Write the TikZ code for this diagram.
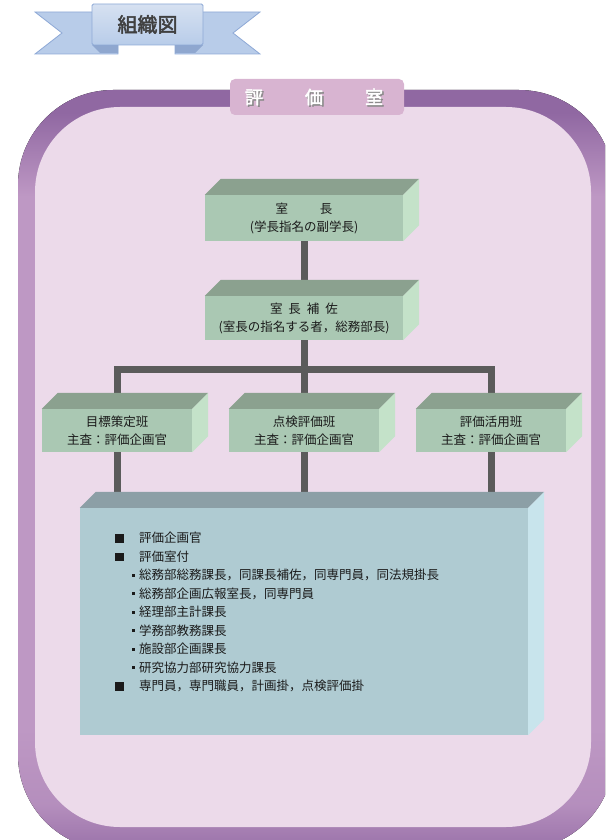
\documentclass[tikz,border=0pt]{standalone}
\usepackage{fontspec}
\setmainfont{Noto Sans CJK JP}
\newfontfamily\jpbold{Noto Sans CJK JP}[FakeBold=2.5]
\usepackage{tikz}
\usetikzlibrary{positioning,calc}
\definecolor{ink}{HTML}{1A1A1A}
\definecolor{framedark}{HTML}{9068A2}
\definecolor{framelight}{HTML}{BE98C4}
\definecolor{pinkbg}{HTML}{ECDAEA}
\definecolor{tabpink}{HTML}{D8B4D1}
\definecolor{linegray}{HTML}{5B5B5B}
\definecolor{boxfront}{HTML}{AAC8B3}
\definecolor{boxtop}{HTML}{8BA18F}
\definecolor{boxside}{HTML}{C4E2C9}
\definecolor{staffront}{HTML}{AFCBD2}
\definecolor{stafftop}{HTML}{8C9FA6}
\definecolor{staffside}{HTML}{C8E4EC}
\definecolor{ribbon}{HTML}{B8CCE9}
\definecolor{ribbonbd}{HTML}{8EA9D6}
\definecolor{ribbonfold}{HTML}{8FA7CF}
\definecolor{ribbontop}{HTML}{D6E1F1}
\pgfdeclareverticalshading{framefade}{100bp}{color(0bp)=(framedark);
  color(25bp)=(framedark!80!framelight); color(28bp)=(framelight!80!framedark);
  color(33bp)=(framelight); color(68bp)=(framelight);
  color(73.5bp)=(framedark); color(100bp)=(framedark)}
\pgfdeclarelayer{bg}
\pgfdeclarelayer{lines}
\pgfsetlayers{bg,lines,main}
\tikzset{
  orgbox/.style={rectangle,fill=boxfront,text=ink,align=center,
    font=\fontsize{12.5}{18}\selectfont,inner sep=0pt,
    minimum width=198pt,minimum height=44pt},
  teambox/.style={orgbox,minimum width=150pt,minimum height=43pt},
  staffbox/.style={rectangle,fill=staffront,inner sep=0pt,
    minimum width=448pt,minimum height=227pt},
  stafflist/.style={align=left,text=ink,inner sep=0pt,
    font=\fontsize{12.5}{18.5}\selectfont},
  orgline/.style={line width=7pt,color=linegray},
  tabtext/.style={font=\jpbold\fontsize{18}{18}\selectfont,inner sep=0pt},
}
% top and right faces of a block
\newcommand{\boxfaces}[3]{%
  \fill[#2] (#1.north west) -- ++(16,-16) -- ($(#1.north east)+(16,-16)$)
    -- (#1.north east) -- cycle;
  \fill[#3] (#1.north east) -- ++(16,-16) -- ($(#1.south east)+(16,-16)$)
    -- (#1.south east) -- cycle;}
\newcommand{\listmain}[1]{\rule[0pt]{8.5pt}{8.5pt}\hspace{15.5pt}#1}
\newcommand{\listsub}[1]{\hspace{17pt}\rule[3pt]{3pt}{3pt}\hspace{4pt}#1}

\begin{document}
\begin{tikzpicture}[x=1pt,y=-1pt]
  \useasboundingbox (0,0) rectangle (605,840);

  % frame
  \begin{pgfonlayer}{bg}
    \clip (0,0) rectangle (605,840);
    \fill[shading=framefade,rounded corners=95pt] (18,90) rectangle (614,850);
    \fill[pinkbg,rounded corners=85pt] (35,107) rectangle (591,827);
  \end{pgfonlayer}

  % ribbon
  \fill[ribbon,draw=ribbonbd,line width=0.8pt]
    (35,12) -- (118,12) -- (118,54) -- (35,54) -- (62,33) -- cycle;
  \fill[ribbon,draw=ribbonbd,line width=0.8pt]
    (260,12) -- (175,12) -- (175,54) -- (260,54) -- (233,33) -- cycle;
  \fill[ribbonfold] (92,45) -- (118,45) -- (118,53) -- (100,53) -- cycle;
  \fill[ribbonfold] (203,45) -- (175,45) -- (175,53) -- (195,53) -- cycle;
  \node[rectangle,top color=ribbontop,bottom color=ribbon,draw=ribbonbd,
    line width=0.8pt,minimum width=111pt,minimum height=41pt,rounded corners=1.5pt,
    inner sep=0pt] (ribbonbox) at (147.5,24.5) {};
  \node[font=\jpbold\fontsize{20}{20}\selectfont,text=black!75,inner sep=0pt]
    (chart) at (ribbonbox.center) {組織図};

  % title tab
  \node[rectangle,fill=tabpink,rounded corners=5pt,minimum width=174pt,
    minimum height=36pt,inner sep=0pt] (tab) at (317,97) {};
  \node[tabtext,text=black!45] (tabshadow) at (315.5,98.5)
    {評\hspace{42pt}価\hspace{42pt}室};
  \node[tabtext,text=white] (title) at (314,97)
    {評\hspace{42pt}価\hspace{42pt}室};

  % blocks
  \node[orgbox,minimum height=46pt] (head) at (304,218) {室\hspace{32pt}長\\(学長指名の副学長)};
  \node[orgbox] (deputy) at (304,318) {室\hspace{6pt}長\hspace{6pt}補\hspace{6pt}佐\\(室長の指名する者，総務部長)};
  \node[teambox] (goal) at (117,430.5) {目標策定班\\主査：評価企画官};
  \node[teambox] (check) at (304,430.5) {点検評価班\\主査：評価企画官};
  \node[teambox] (use) at (491,430.5) {評価活用班\\主査：評価企画官};
  \node[staffbox] (staff) at (304,621.5) {};
  \boxfaces{head}{boxtop}{boxside}
  \boxfaces{deputy}{boxtop}{boxside}
  \boxfaces{goal}{boxtop}{boxside}
  \boxfaces{check}{boxtop}{boxside}
  \boxfaces{use}{boxtop}{boxside}
  \boxfaces{staff}{stafftop}{staffside}

  \node[stafflist,anchor=north west] (members) at (115,532) {%
    \listmain{評価企画官}\\
    \listmain{評価室付}\\
    \listsub{総務部総務課長，同課長補佐，同専門員，同法規掛長}\\
    \listsub{総務部企画広報室長，同専門員}\\
    \listsub{経理部主計課長}\\
    \listsub{学務部教務課長}\\
    \listsub{施設部企画課長}\\
    \listsub{研究協力部研究協力課長}\\
    \listmain{専門員，専門職員，計画掛，点検評価掛}};

  % connectors
  \coordinate (bar) at (0,369.5);
  \begin{pgfonlayer}{lines}
    \draw[orgline] (head.south) -- (deputy.north);
    \draw[orgline] (deputy.south) -- (check.north);
    \draw[orgline] (goal.north) -- (goal.north |- bar) -- (use.north |- bar) -- (use.north);
    \draw[orgline] (goal.south) -- (goal.south |- staff.north);
    \draw[orgline] (check.south) -- (staff.north);
    \draw[orgline] (use.south) -- (use.south |- staff.north);
  \end{pgfonlayer}
\end{tikzpicture}
\end{document}
